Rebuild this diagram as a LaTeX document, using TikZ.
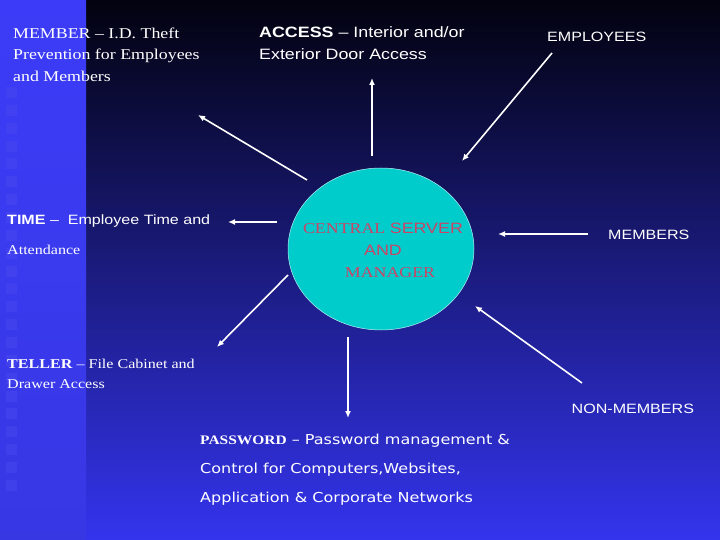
\documentclass[tikz,border=0pt]{standalone}
\usepackage{fontspec}
\setmainfont{Liberation Serif}[FakeStretch=1.19]
\setsansfont{Liberation Sans}[FakeStretch=1.19]
\newfontfamily\verdana{DejaVu Sans}[FakeStretch=1.17]
\usetikzlibrary{arrows.meta, shapes.geometric}
\definecolor{nightblue}{HTML}{02020F}
\definecolor{midblue}{HTML}{20209A}
\definecolor{royalblue}{HTML}{3434EE}
\definecolor{stripblue}{HTML}{3C3CF8}
\definecolor{stripdark}{HTML}{04041A}
\definecolor{tileblue}{HTML}{4A4AF0}
\definecolor{servercyan}{HTML}{00CCCC}
\definecolor{serverrose}{HTML}{CC4466}

\begin{document}
\begin{tikzpicture}[
  x=1pt, y=-1pt,
  arrow/.style={white, line width=1.6pt, -{Latex[length=7pt, width=6pt]}},
  txt/.style={white, inner sep=0pt, anchor=base west},
  servertxt/.style={serverrose, inner sep=0pt, anchor=base},
  tile/.style={fill=tileblue, fill opacity=0.45},
  server/.style={ellipse, fill=servercyan, draw=white!70!servercyan, line width=0.5pt,
    minimum width=186pt, minimum height=162pt, inner sep=0pt},
]
\useasboundingbox (0,0) rectangle (720,540);

% ===== Background =====
\shade[top color=nightblue, middle color=midblue, bottom color=royalblue] (0,0) rectangle (720,540);
\shade[top color=stripblue, middle color=stripdark, bottom color=stripblue!92!black] (0,0) rectangle (86,540);
\foreach \i in {0,...,22}
  \fill[tile] (6,{87+17.86*\i}) rectangle ++(11,11);

% ===== Central server =====
\node[server] (server) at (381,249) {};
\begin{scope}[font=\fontsize{15}{18}\selectfont]
  \node[servertxt] (server-1) at (383,233.3) {{\rmfamily CENTRAL} {\sffamily SERVER}};
  \node[servertxt, font=\sffamily\fontsize{15}{18}\selectfont] (server-2) at (383,255) {AND};
  \node[servertxt] (server-3) at (390,277.3) {MANAGER};
\end{scope}

% ===== Outer labels =====
\begin{scope}[font=\fontsize{15}{18}\selectfont]
  \node[txt] (member-1) at (13,38.5) {MEMBER – I.D. Theft};
  \node[txt] (member-2) at (13,60) {Prevention for Employees};
  \node[txt] (member-3) at (13,81.5) {and Members};
\end{scope}
\begin{scope}[font=\sffamily\fontsize{15}{18}\selectfont]
  \node[txt] (access-1) at (259,37.3) {\textbf{ACCESS} – Interior and/or};
  \node[txt] (access-2) at (259,59.3) {Exterior Door Access};
\end{scope}
\begin{scope}[font=\sffamily\fontsize{13.5}{16}\selectfont]
  \node[txt] (employees) at (547,41.3) {EMPLOYEES};
  \node[txt] (members) at (608,240) {MEMBERS};
  \node[txt] (nonmembers) at (571.5,413.3) {NON-MEMBERS};
  \node[txt] (time) at (7,224.3) {\textbf{TIME} –\ \ Employee Time and};
\end{scope}
\begin{scope}[font=\fontsize{13.5}{16}\selectfont]
  \node[txt] (attendance) at (7,254.3) {Attendance};
  \node[txt] (teller-1) at (7,368.3) {\textbf{TELLER} – File Cabinet and};
  \node[txt] (teller-2) at (7,388.3) {Drawer Access};
\end{scope}
\begin{scope}[font=\verdana\fontsize{13.7}{16}\selectfont]
  \node[txt] (password-1) at (200,444.3)
    {{\rmfamily\bfseries\fontsize{13}{16}\selectfont PASSWORD} – Password management \&};
  \node[txt] (password-2) at (200,473.5) {Control for Computers,Websites,};
  \node[txt] (password-3) at (200,502.3) {Application \& Corporate Networks};
\end{scope}

% ===== Connector ends =====
\coordinate (server-nw) at (307,180);  \coordinate (member-tip) at (198,115);
\coordinate (server-n) at (372,156);   \coordinate (access-tip) at (372,78);
\coordinate (employees-end) at (552,53); \coordinate (server-ne) at (462,161);
\coordinate (server-w) at (277,222);   \coordinate (time-tip) at (228,222);
\coordinate (server-sw) at (288,275);  \coordinate (teller-tip) at (217,347);
\coordinate (members-end) at (588,234); \coordinate (server-e) at (498,234);
\coordinate (nonmembers-end) at (582,383); \coordinate (server-se) at (475,306);
\coordinate (server-s) at (348,337);   \coordinate (password-tip) at (348,418);

% ===== Connectors =====
\draw[arrow] (server-nw) -- (member-tip);
\draw[arrow] (server-n) -- (access-tip);
\draw[arrow] (employees-end) -- (server-ne);
\draw[arrow] (server-w) -- (time-tip);
\draw[arrow] (server-sw) -- (teller-tip);
\draw[arrow] (members-end) -- (server-e);
\draw[arrow] (nonmembers-end) -- (server-se);
\draw[arrow] (server-s) -- (password-tip);

\end{tikzpicture}
\end{document}
